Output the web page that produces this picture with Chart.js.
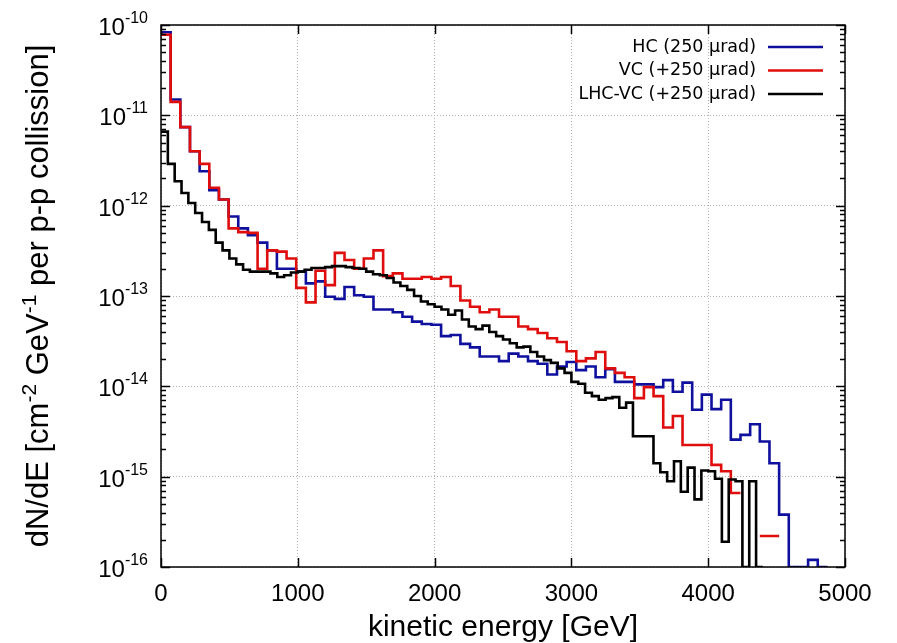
<!DOCTYPE html>
<html>
<head>
<meta charset="utf-8">
<title>dN/dE vs kinetic energy</title>
<script src="https://cdn.jsdelivr.net/npm/chart.js@4.4.1/dist/chart.umd.min.js"></script>
<style>
  html, body { margin: 0; padding: 0; background: #fff; }
  #wrap { width: 897px; height: 643px; }
</style>
</head>
<body>
<div id="wrap"><canvas id="spectrum" width="897" height="643"></canvas></div>
<script>
// ── AXES ──────────────────────────────────────────────────────────────────────
const X_TICKS   = [0, 1000, 2000, 3000, 4000, 5000];
const Y_DECADES = [-16, -15, -14, -13, -12, -11, -10];
const Y_MIN     = 1e-16;
const Y_MAX     = 1e-10;

// ── SPECTRA (dN/dE per bin, 0 = empty bin, null = not drawn) ──────────────────
const HC_BIN  = 70.6;   // GeV, HC and VC histograms
const LHC_BIN = 50;     // GeV, LHC-VC histogram

const HC_LABEL  = 'HC (250 µrad)';
const HC_VALUES = [
  8.3e-11, 1.5e-11, 7.4e-12, 4.0e-12, 2.4e-12, 1.48e-12, 1.17e-12, 7.6e-13,
  5.6e-13, 4.7e-13, 3.9e-13, 3.2e-13, 2.0e-13, 2.0e-13, 1.86e-13, 1.38e-13,
  1.45e-13, 9.8e-14, 9.3e-14, 1.26e-13, 1.02e-13, 9.8e-14, 7.1e-14, 7.1e-14,
  6.6e-14, 5.9e-14, 5.2e-14, 4.9e-14, 4.8e-14, 3.6e-14, 3.7e-14, 2.95e-14,
  2.7e-14, 2.14e-14, 2.14e-14, 1.9e-14, 2.3e-14, 2.14e-14, 1.9e-14, 1.78e-14,
  1.35e-14, 1.66e-14, 1.86e-14, 1.51e-14, 1.66e-14, 1.26e-14, 1.55e-14, 1.12e-14,
  1.12e-14, 1.05e-14, 1.05e-14, 9.8e-15, 1.17e-14, 8.7e-15, 1.1e-14, 5.5e-15,
  8.1e-15, 5.6e-15, 7.1e-15, 2.57e-15, 2.9e-15, 3.8e-15, 2.45e-15, 1.41e-15,
  3.8e-16, 0, 0, 1.2e-16, 0
];

const VC_LABEL  = 'VC (+250 µrad)';
const VC_VALUES = [
  7.8e-11, 1.41e-11, 7.4e-12, 4.0e-12, 2.9e-12, 1.58e-12, 1.17e-12, 5.6e-13,
  5.1e-13, 5.0e-13, 2.0e-13, 3.2e-13, 3.1e-13, 2.6e-13, 1.23e-13, 8.5e-14,
  1.9e-13, 1.32e-13, 3.0e-13, 2.5e-13, 2.0e-13, 2.6e-13, 3.2e-13, 1.66e-13,
  1.78e-13, 1.55e-13, 1.55e-13, 1.62e-13, 1.55e-13, 1.62e-13, 1.29e-13, 8.9e-14,
  7.6e-14, 6.6e-14, 7.1e-14, 5.9e-14, 5.9e-14, 4.6e-14, 4.3e-14, 3.9e-14,
  3.4e-14, 3.1e-14, 2.45e-14, 1.9e-14, 2.04e-14, 2.4e-14, 1.58e-14, 1.41e-14,
  1.26e-14, 7.4e-15, 9.8e-15, 7.8e-15, 3.5e-15, 4.7e-15, 2.24e-15, 2.24e-15,
  2.24e-15, 1.35e-15, 1.15e-15, 6.6e-16, null, null, 2.2e-16, 2.2e-16
];

const LHC_LABEL  = 'LHC-VC (+250 µrad)';
const LHC_VALUES = [
  6.6e-12, 2.9e-12, 1.86e-12, 1.38e-12, 1.07e-12, 8.3e-13, 6.6e-13, 5.4e-13,
  3.9e-13, 3.2e-13, 2.6e-13, 2.24e-13, 1.95e-13, 1.86e-13, 1.86e-13, 1.86e-13,
  1.78e-13, 1.62e-13, 1.7e-13, 1.82e-13, 1.86e-13, 1.95e-13, 2.04e-13, 2.04e-13,
  2.09e-13, 2.14e-13, 2.14e-13, 2.09e-13, 2.04e-13, 2.0e-13, 1.86e-13, 1.74e-13,
  1.7e-13, 1.58e-13, 1.41e-13, 1.29e-13, 1.17e-13, 1.0e-13, 8.7e-14, 8.1e-14,
  7.6e-14, 7.1e-14, 6.2e-14, 6.9e-14, 5.5e-14, 4.6e-14, 4.3e-14, 4.7e-14,
  4.0e-14, 3.6e-14, 3.3e-14, 3.0e-14, 2.7e-14, 2.75e-14, 2.4e-14, 2.14e-14,
  1.95e-14, 1.82e-14, 1.58e-14, 1.41e-14, 1.12e-14, 1.07e-14, 8.5e-15, 7.8e-15,
  7.1e-15, 7.4e-15, 7.6e-15, 5.8e-15, 6.6e-15, 2.8e-15, 2.8e-15, 2.8e-15,
  1.41e-15, 1.12e-15, 8.9e-16, 1.48e-15, 6.8e-16, 1.26e-15, 5.6e-16, 1.17e-15,
  1.15e-15, 9.5e-16, 1.9e-16, 9.3e-16, 8.9e-16, 0, 8.9e-16, 0
];

// ── STYLE ─────────────────────────────────────────────────────────────────────
const HC_COLOR  = '#10109e';
const VC_COLOR  = '#e00d0d';
const LHC_COLOR = '#000000';
const GRID_CLR  = '#b0b0b0';
const SANS      = '"Liberation Sans", Arial, sans-serif';
const LEGEND_FT = '17.5px "DejaVu Sans", sans-serif';

// each bin becomes a flat segment; empty bins sit on the bottom of the log axis
function histPoints(values, width) {
  const pts = [];
  values.forEach((v, i) => {
    const y = v === 0 ? Y_MIN : v;
    pts.push({ x: i * width, y }, { x: (i + 1) * width, y });
  });
  return pts;
}

// text with raised, smaller pieces: parts = [[text, isSup], ...]
function richWidth(ctx, parts, base, sup) {
  return parts.reduce((w, [t, s]) => {
    ctx.font = s ? sup : base;
    return w + ctx.measureText(t).width;
  }, 0);
}

function drawRich(ctx, parts, x, y, base, sup, raise) {
  let cx = x;
  parts.forEach(([t, s]) => {
    ctx.font = s ? sup : base;
    ctx.fillText(t, cx, s ? y - raise : y);
    cx += ctx.measureText(t).width;
  });
}

// ── FRAME, TICKS, LABELS, LEGEND ─────────────────────────────────────────────
const framePlugin = {
  id: 'gnuFrame',
  afterDraw(chart) {
    const { ctx, chartArea: a, scales: { x, y } } = chart;
    ctx.save();
    ctx.strokeStyle = '#000';
    ctx.fillStyle   = '#000';
    ctx.lineWidth   = 1.5;

    const seg = (x1, y1, x2, y2) => {
      ctx.beginPath();
      ctx.moveTo(x1, y1);
      ctx.lineTo(x2, y2);
      ctx.stroke();
    };

    ctx.strokeRect(a.left, a.top, a.right - a.left, a.bottom - a.top);

    // x ticks point inward from bottom and top
    X_TICKS.forEach(v => {
      const px = Math.round(x.getPixelForValue(v)) + 0.5;
      seg(px, a.bottom, px, a.bottom - 9);
      seg(px, a.top, px, a.top + 9);
    });

    // y ticks: decades long, 2..9 short, both sides
    Y_DECADES.forEach(e => {
      for (let m = 1; m <= 9; m++) {
        const v = m * Math.pow(10, e);
        if (v > Y_MAX * 1.0001) break;
        const py  = Math.round(y.getPixelForValue(v)) + 0.5;
        const len = m === 1 ? 9 : 5;
        seg(a.left, py, a.left + len, py);
        seg(a.right, py, a.right - len, py);
      }
    });

    // y tick labels 10^n
    const baseFt = '24px ' + SANS;
    const supFt  = '16px ' + SANS;
    ctx.textBaseline = 'alphabetic';
    ctx.textAlign    = 'left';
    Y_DECADES.forEach(e => {
      const py    = y.getPixelForValue(Math.pow(10, e));
      const parts = [['10', false], [String(e), true]];
      const w     = richWidth(ctx, parts, baseFt, supFt);
      drawRich(ctx, parts, 148 - w, py + 10, baseFt, supFt, 12);
    });

    // x tick labels
    ctx.font      = baseFt;
    ctx.textAlign = 'center';
    X_TICKS.forEach(v => ctx.fillText(String(v), x.getPixelForValue(v), 601));

    // axis titles
    ctx.font = '30px ' + SANS;
    ctx.fillText('kinetic energy [GeV]', (a.left + a.right) / 2, 636);

    const tBase = '31px ' + SANS;
    const tSup  = '21px ' + SANS;
    const title = [
      ['dN/dE [cm', false], ['-2', true], [' GeV', false], ['-1', true],
      [' per p-p collission]', false]
    ];
    ctx.save();
    ctx.translate(48, (a.top + a.bottom) / 2);
    ctx.rotate(-Math.PI / 2);
    ctx.textAlign = 'left';
    const tw = richWidth(ctx, title, tBase, tSup);
    drawRich(ctx, title, -tw / 2, 0, tBase, tSup, 12);
    ctx.restore();

    // legend: label right-aligned, sample line to its right
    ctx.font         = LEGEND_FT;
    ctx.textAlign    = 'right';
    ctx.textBaseline = 'middle';
    ctx.lineWidth    = 2.6;
    [0, 1, 2].forEach((idx, row) => {
      const ds = chart.data.datasets[idx];
      const ry = 47 + row * 23.5;
      ctx.fillStyle = '#000';
      ctx.fillText(ds.label, 756, ry);
      ctx.strokeStyle = ds.borderColor;
      seg(768, ry, 823, ry);
    });
    ctx.restore();
  }
};

// ── CHART ─────────────────────────────────────────────────────────────────────
const lineDefaults = {
  borderWidth: 2.6,
  pointRadius: 0,
  fill:        false,
  tension:     0,
  clip:        0
};

new Chart(document.getElementById('spectrum'), {
  type: 'line',
  data: {
    datasets: [
      { ...lineDefaults, label: HC_LABEL,  data: histPoints(HC_VALUES, HC_BIN),   borderColor: HC_COLOR,  order: 3 },
      { ...lineDefaults, label: VC_LABEL,  data: histPoints(VC_VALUES, HC_BIN),   borderColor: VC_COLOR,  order: 2 },
      { ...lineDefaults, label: LHC_LABEL, data: histPoints(LHC_VALUES, LHC_BIN), borderColor: LHC_COLOR, order: 1 }
    ]
  },
  options: {
    responsive: false,
    animation:  false,
    layout:     { padding: { left: 161, right: 52, top: 25, bottom: 76 } },
    plugins: {
      legend:  { display: false },
      tooltip: { enabled: false }
    },
    scales: {
      x: {
        type: 'linear',
        min:  0,
        max:  5000,
        afterBuildTicks: s => { s.ticks = X_TICKS.map(v => ({ value: v })); },
        ticks:  { display: false },
        grid:   { color: GRID_CLR, lineWidth: 1, drawTicks: false },
        border: { display: false, dash: [1, 2] }
      },
      y: {
        type: 'logarithmic',
        min:  Y_MIN,
        max:  Y_MAX,
        afterBuildTicks: s => { s.ticks = Y_DECADES.map(e => ({ value: Math.pow(10, e) })); },
        ticks:  { display: false },
        grid:   { color: GRID_CLR, lineWidth: 1, drawTicks: false },
        border: { display: false, dash: [1, 2] }
      }
    }
  },
  plugins: [framePlugin]
});
</script>
</body>
</html>
